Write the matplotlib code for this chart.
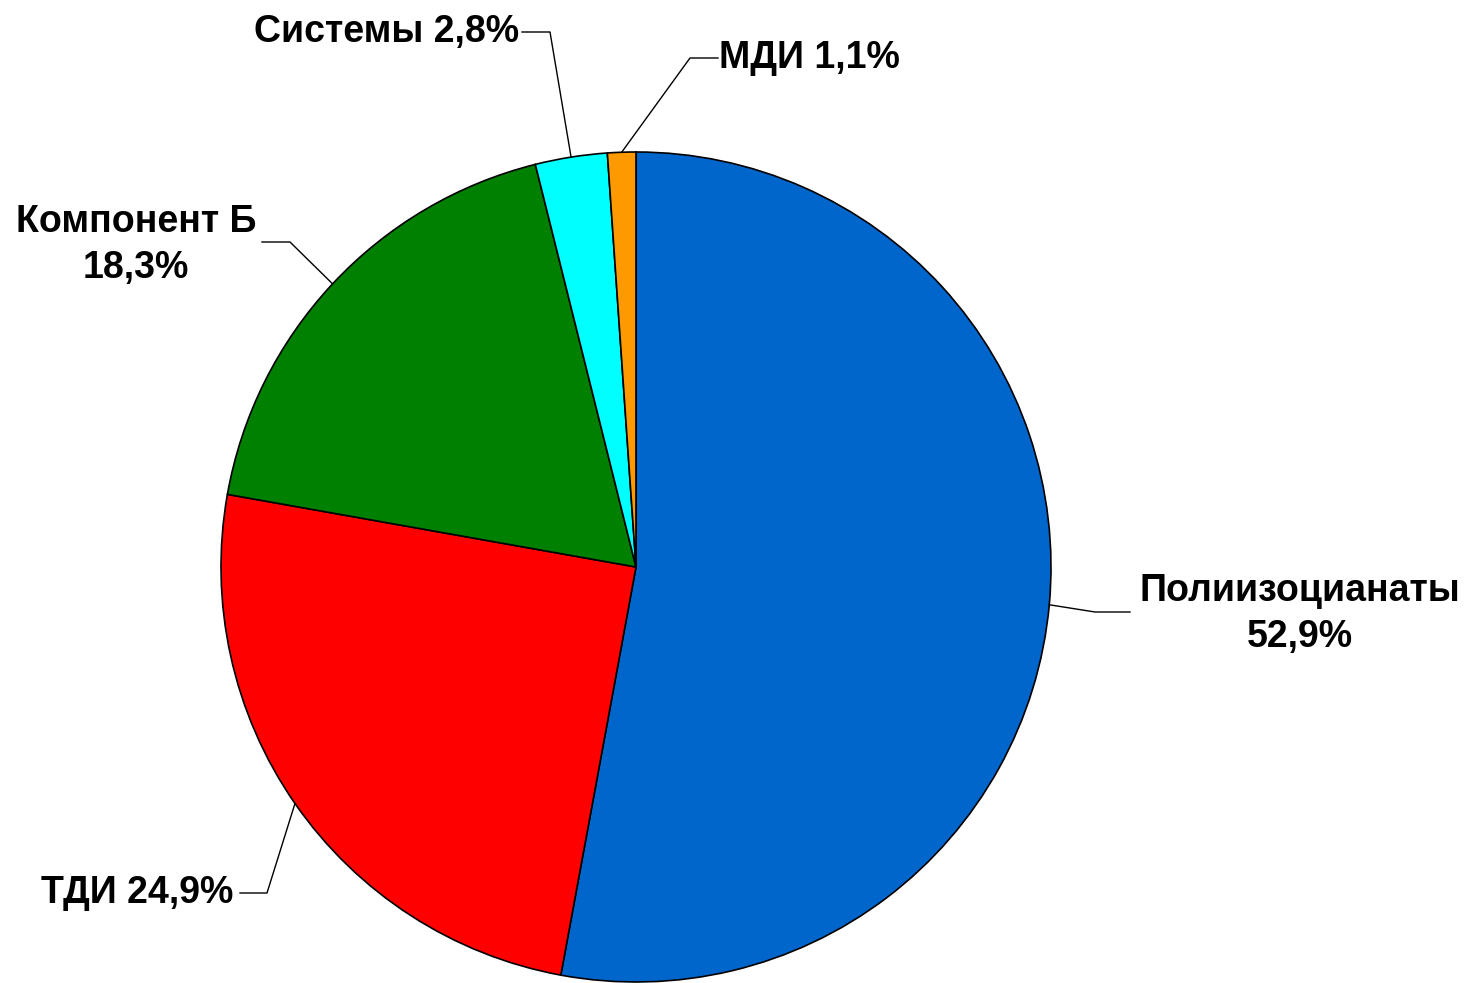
import matplotlib
matplotlib.use("Agg")
import matplotlib.pyplot as plt
import numpy as np

labels = ["Полиизоцианаты", "ТДИ", "Компонент Б", "Системы", "МДИ"]
values = [52.9, 24.9, 18.3, 2.8, 1.1]
label_texts = ["Полиизоцианаты\n52,9%", "ТДИ 24,9%", "Компонент Б\n18,3%", "Системы 2,8%", "МДИ 1,1%"]
colors = ["#0066CC", "#FF0000", "#008000", "#00FFFF", "#FF9900"]

W, H = 1470, 983
fig = plt.figure(figsize=(W / 100, H / 100), dpi=100)
ax = fig.add_axes([0, 0, 1, 1])

cx, cy, R = 636, H - 567, 415
wedges, _ = ax.pie(values, colors=colors, startangle=90, counterclock=False,
                   center=(cx, cy), radius=R, frame=True,
                   wedgeprops=dict(edgecolor="black", linewidth=1.2))
ax.set_xlim(0, W)
ax.set_ylim(0, H)
ax.axis("off")

# layout: (elbow x, elbow y, line end x, text x, text y, ha) in pixel coords (y from top)
layout = [
    (1095, 612, 1130, 1300, 614, "center"),
    (267, 893, 240, 233, 893, "right"),
    (290, 242, 262, 136, 245, "center"),
    (550, 32, 522, 519, 32, "right"),
    (690, 58, 718, 719, 58, "left"),
]
font = dict(family="Liberation Sans", weight="bold", size=27)
for w, txt, (ex, ey, lx, tx, ty, ha) in zip(wedges, label_texts, layout):
    mid = np.deg2rad((w.theta1 + w.theta2) / 2)
    ax_ = cx + R * np.cos(mid)
    ay_ = cy + R * np.sin(mid)
    ax.plot([ax_, ex, lx], [ay_, H - ey, H - ey], color="black", lw=1.0)
    ax.text(tx, H - ty, txt, ha=ha, va="center", multialignment="center",
            linespacing=1.35, **font)

fig.savefig("out.png", dpi=100, facecolor="white")
